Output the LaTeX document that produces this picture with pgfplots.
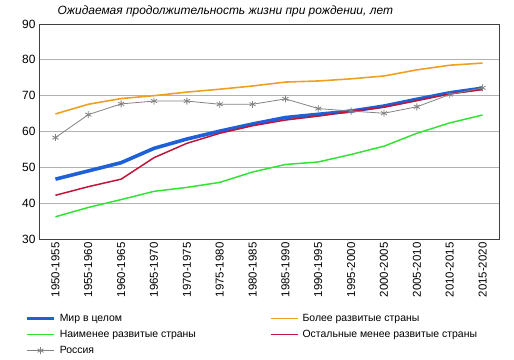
\documentclass[border=0pt]{standalone}
\usepackage{fontspec}
\setmainfont{Liberation Sans}
\usepackage{pgfplots}
\pgfplotsset{compat=1.18}
\definecolor{cblue}{RGB}{30,96,214}
\definecolor{corange}{RGB}{240,160,32}
\definecolor{cgreen}{RGB}{50,228,50}
\definecolor{cred}{RGB}{192,20,56}
\definecolor{cgray}{RGB}{130,130,130}
\begin{document}
\begin{tikzpicture}
\path[use as bounding box] (-39bp,-121bp) rectangle (475bp,239bp);
\begin{axis}[
  at={(0,0)}, anchor=south west,
  scale only axis, width=460bp, height=215bp,
  xmin=-0.5, xmax=13.5, ymin=30, ymax=90,
  ytick={30,40,...,90},
  xtick={0,...,13},
  xticklabels={1950-1955,1955-1960,1960-1965,1965-1970,1970-1975,1975-1980,1980-1985,1985-1990,1990-1995,1995-2000,2000-2005,2005-2010,2010-2015,2015-2020},
  x tick label style={rotate=90, anchor=east, font=\fontsize{11.5}{13}\selectfont, xshift=0bp},
  y tick label style={font=\fontsize{12}{14}\selectfont},
  /pgf/number format/assume math mode=true,
  major tick length=0pt,
  ymajorgrids, grid style={color=black!30, line width=0.7pt},
  axis line style={color=black!75, line width=0.7pt},
  title={\itshape Ожидаемая продолжительность жизни при рождении, лет},
  title style={at={(0.04,1)}, anchor=base west, yshift=4bp, font=\fontsize{12}{14}\selectfont, inner sep=0pt},
  legend columns=2,
  legend cell align=left,
  legend style={at={(0,0)}, anchor=north west, xshift=-14bp, yshift=-73bp, draw=none, fill=none, inner sep=0pt,
     font=\fontsize{10.5}{12}\selectfont, row sep=3.3bp,
     /tikz/every odd column/.append style={column sep=2bp},
     /tikz/every even column/.append style={column sep=72bp}},
  legend image code/.code={\draw[mark repeat=2,mark phase=2,#1] plot coordinates {(0bp,0bp) (13.5bp,0bp) (27bp,0bp)};},
]
\addplot[cblue, line width=3.6pt, mark=none] coordinates {
(0,46.7) (1,49.0) (2,51.3) (3,55.3) (4,57.9) (5,60.1) (6,62.1) (7,63.9) (8,64.8) (9,65.7) (10,67.1) (11,69.0) (12,70.8) (13,72.1)};
\addlegendentry{Мир в целом}
\addplot[corange, line width=1.6pt, mark=none] coordinates {
(0,64.9) (1,67.6) (2,69.2) (3,70.0) (4,71.0) (5,71.8) (6,72.7) (7,73.8) (8,74.1) (9,74.7) (10,75.5) (11,77.2) (12,78.5) (13,79.1)};
\addlegendentry{Более развитые страны}
\addplot[cgreen, line width=1.5pt, mark=none] coordinates {
(0,36.2) (1,38.8) (2,41.0) (3,43.3) (4,44.4) (5,45.8) (6,48.7) (7,50.8) (8,51.5) (9,53.6) (10,55.9) (11,59.5) (12,62.4) (13,64.6)};
\addlegendentry{Наименее развитые страны}
\addplot[cred, line width=1.5pt, mark=none] coordinates {
(0,42.2) (1,44.6) (2,46.7) (3,52.7) (4,56.7) (5,59.5) (6,61.6) (7,63.2) (8,64.3) (9,65.6) (10,66.8) (11,68.6) (12,70.5) (13,71.7)};
\addlegendentry{Остальные менее развитые страны}
\addplot[cgray, line width=0.8pt, mark=asterisk, mark size=3.5pt, mark options={line width=0.8pt}] coordinates {
(0,58.3) (1,64.7) (2,67.7) (3,68.5) (4,68.5) (5,67.6) (6,67.6) (7,69.1) (8,66.4) (9,65.7) (10,65.1) (11,66.9) (12,70.3) (13,72.2)};
\addlegendentry{Россия}
\end{axis}
\end{tikzpicture}
\end{document}
